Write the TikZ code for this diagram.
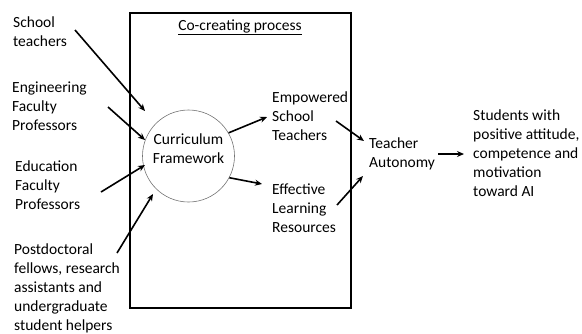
\documentclass[tikz,border=0pt]{standalone}
\usepackage{fontspec}
\setmainfont{Carlito}
\usetikzlibrary{arrows.meta}

\begin{document}
\begin{tikzpicture}[x=1pt,y=-1pt,
    txt/.style={anchor=west,align=left,inner sep=0pt,font=\fontsize{15.5}{19}\selectfont},
    arr/.style={line width=1.6pt,-{Stealth[length=7pt,width=6pt]}}]
        \useasboundingbox (0,0) rectangle (582,333);
        % Kereten belüli folyamat
        \draw[line width=2pt] (130,13) rectangle (351,308);
        \node[txt,anchor=center] (title) at (240,27) {\underline{Co-creating process}};
        \node[circle,draw=black!55,line width=0.6pt,minimum size=92pt,inner sep=0pt,
              label={[txt,anchor=center,align=center,yshift=7pt]center:Curriculum\\Framework}] (curr) at (188.5,156) {};
        % Résztvevők a bal oldalon
        \node[txt] (teach) at (13,31.5) {School\\teachers};
        \node[txt] (eng) at (12,106) {Engineering\\Faculty\\Professors};
        \node[txt] (edu) at (15,185) {Education\\Faculty\\Professors};
        \node[txt] (post) at (14,288) {Postdoctoral\\fellows, research\\assistants and\\undergraduate\\student helpers};
        % Eredmények
        \node[txt] (emp) at (272,116) {Empowered\\School\\Teachers};
        \node[txt] (eff) at (272,208) {Effective\\Learning\\Resources};
        \node[txt] (auton) at (369,153.5) {Teacher\\Autonomy};
        \node[txt] (stud) at (473,153) {Students with\\positive attitude,\\competence and\\motivation\\toward AI};
        % A nyilak végpontjai
        \coordinate (teachout) at (75,30);
        \coordinate (teachin) at (145,111);
        \coordinate (engout) at (108,107);
        \coordinate (engin) at (145,140);
        \coordinate (eduout) at (101,192);
        \coordinate (eduin) at (145,165);
        \coordinate (postout) at (117,253);
        \coordinate (postin) at (153,194);
        \coordinate (empout) at (336,121);
        \coordinate (autonin1) at (364,141);
        \coordinate (effout) at (337,205);
        \coordinate (autonin2) at (363,176);
        % Megrajzoljuk a nyilakat
        \draw[arr] (teachout) -- (teachin);
        \draw[arr] (engout) -- (engin);
        \draw[arr] (eduout) -- (eduin);
        \draw[arr] (postout) -- (postin);
        \draw[arr] (curr.30) -- ([xshift=-5pt]emp.west |- 0,117);
        \draw[arr] (curr.-28) -- (262,184);
        \draw[arr] (empout) -- (autonin1);
        \draw[arr] (effout) -- (autonin2);
        \draw[arr] ([xshift=3pt]auton.east |- 0,154) -- ([xshift=-9pt]stud.west |- 0,154);
    \end{tikzpicture}
\end{document}
